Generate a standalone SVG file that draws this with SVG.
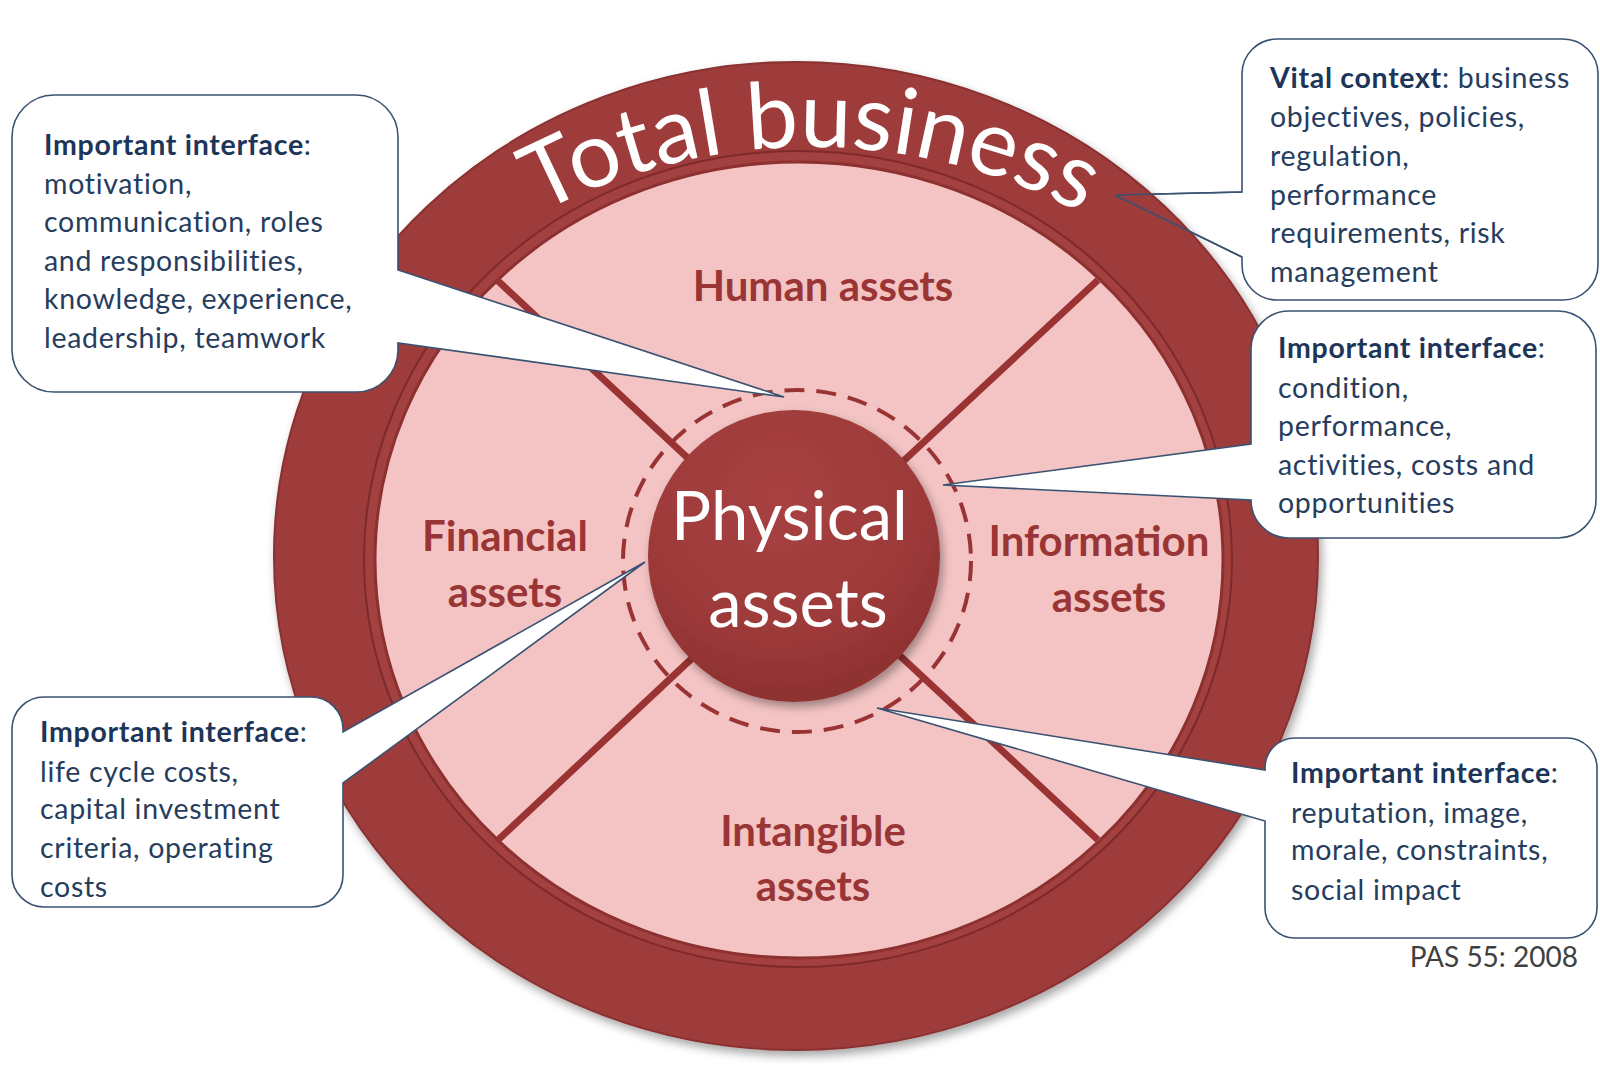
<svg xmlns="http://www.w3.org/2000/svg" width="1600" height="1078" viewBox="0 0 1600 1078">
<defs>
  <filter id="shadow" x="-10%" y="-10%" width="120%" height="120%">
    <feDropShadow dx="3" dy="5" stdDeviation="5" flood-color="#000" flood-opacity="0.35"/>
  </filter>
  <radialGradient id="hub" cx="45%" cy="30%" r="70%">
    <stop offset="0" stop-color="#A94242"/>
    <stop offset="0.7" stop-color="#9C3939"/>
    <stop offset="1" stop-color="#8E3131"/>
  </radialGradient>
  <path id="arcText" d="M 251,558 A 587 587 0 0 1 1371,558"/>
  <style>
    .callout { fill: #ffffff; stroke: #3A5272; stroke-width: 1.6; }
    .ctext { font-family: Lato, "Liberation Sans", sans-serif; font-size: 28.5px; letter-spacing: 0.7px; fill: #263D5E; }
    .ctext .b { font-weight: bold; fill: #1C3558; }
    .label { font-family: Lato, "Liberation Sans", sans-serif; font-size: 42px; font-weight: bold; fill: #9A3535; text-anchor: middle; }
    .divider { stroke: #9A3434; stroke-width: 7; }
    .ptr { fill: none; stroke: #3A5272; stroke-width: 1.6; }
  </style>
</defs>
<rect width="1600" height="1078" fill="#ffffff"/>

<!-- Vital context callout (sits behind the wheel) -->
<g id="callout-vital-context">
  <path class="callout" d="M 1277,39 H 1563 A 35 35 0 0 1 1598,74 V 265 A 35 35 0 0 1 1563,300 H 1277 A 35 35 0 0 1 1242,265 V 257 L 1115,195 L 1242,192 V 74 A 35 35 0 0 1 1277,39 Z"/>
  <text class="ctext">
    <tspan x="1270" y="88"><tspan class="b">Vital context</tspan>: business</tspan>
    <tspan x="1270" y="127">objectives, policies,</tspan>
    <tspan x="1270" y="166">regulation,</tspan>
    <tspan x="1270" y="205">performance</tspan>
    <tspan x="1270" y="243">requirements, risk</tspan>
    <tspan x="1270" y="282">management</tspan>
  </text>
</g>

<!-- Wheel -->
<g id="total-business">
  <ellipse cx="796" cy="556" rx="522" ry="494" fill="#9E3B3B" stroke="#8A3030" stroke-width="2" filter="url(#shadow)"/>
  <ellipse cx="798" cy="559" rx="434" ry="408" fill="#A34040" stroke="#7E2A2A" stroke-width="2"/>
  <text font-family="Lato, 'Liberation Sans', sans-serif" font-size="92" fill="#ffffff" text-anchor="middle">
    <textPath href="#arcText" startOffset="50%">Total business</textPath>
  </text>
</g>

<g id="asset-segments">
  <ellipse cx="799" cy="560" rx="424" ry="398" fill="#F4C4C4" stroke="#8C3030" stroke-width="3"/>
  <line class="divider" x1="497" y1="280" x2="797" y2="560"/>
  <line class="divider" x1="1098" y1="280" x2="797" y2="560"/>
  <line class="divider" x1="498" y1="840" x2="797" y2="560"/>
  <line class="divider" x1="1098" y1="840" x2="797" y2="560"/>
  <ellipse cx="797" cy="561" rx="174" ry="171" fill="none" stroke="#9A3434" stroke-width="4" stroke-dasharray="20 12"/>
</g>

<g id="human-assets">
  <text class="label" x="823" y="301">Human assets</text>
</g>
<g id="financial-assets">
  <text class="label" x="505" y="551">Financial</text>
  <text class="label" x="505" y="607">assets</text>
</g>
<g id="information-assets">
  <text class="label" x="1099" y="556">Information</text>
  <text class="label" x="1109" y="612">assets</text>
</g>
<g id="intangible-assets">
  <text class="label" x="813" y="846">Intangible</text>
  <text class="label" x="813" y="901">assets</text>
</g>

<g id="physical-assets">
  <circle cx="794" cy="556" r="146" fill="url(#hub)" filter="url(#shadow)"/>
  <text font-family="Lato, 'Liberation Sans', sans-serif" font-size="67" fill="#ffffff" text-anchor="middle">
    <tspan x="798" y="540">Physical</tspan>
    <tspan x="798" y="627">assets</tspan>
  </text>
</g>

<!-- Callouts over the wheel -->
<g id="callout-human">
  <path class="callout" d="M 54,95 H 356 A 42 42 0 0 1 398,137 V 270 L 784,397 L 398,343 V 350 A 42 42 0 0 1 356,392 H 54 A 42 42 0 0 1 12,350 V 137 A 42 42 0 0 1 54,95 Z"/>
  <text class="ctext">
    <tspan x="44" y="155"><tspan class="b">Important interface</tspan>:</tspan>
    <tspan x="44" y="194">motivation,</tspan>
    <tspan x="44" y="232">communication, roles</tspan>
    <tspan x="44" y="271">and responsibilities,</tspan>
    <tspan x="44" y="309">knowledge, experience,</tspan>
    <tspan x="44" y="348">leadership, teamwork</tspan>
  </text>
</g>

<g id="callout-information">
  <path class="callout" d="M 1289,311 H 1558 A 38 38 0 0 1 1596,349 V 500 A 38 38 0 0 1 1558,538 H 1289 A 38 38 0 0 1 1251,500 L 943,485 L 1251,444 V 349 A 38 38 0 0 1 1289,311 Z"/>
  <text class="ctext">
    <tspan x="1278" y="358"><tspan class="b">Important interface</tspan>:</tspan>
    <tspan x="1278" y="398">condition,</tspan>
    <tspan x="1278" y="436">performance,</tspan>
    <tspan x="1278" y="475">activities, costs and</tspan>
    <tspan x="1278" y="513">opportunities</tspan>
  </text>
</g>

<g id="callout-financial">
  <path class="callout" d="M 44,697 H 311 A 32 32 0 0 1 343,729 V 732 L 645,562 L 343,783 V 875 A 32 32 0 0 1 311,907 H 44 A 32 32 0 0 1 12,875 V 729 A 32 32 0 0 1 44,697 Z"/>
  <text class="ctext">
    <tspan x="40" y="742"><tspan class="b">Important interface</tspan>:</tspan>
    <tspan x="40" y="782">life cycle costs,</tspan>
    <tspan x="40" y="819">capital investment</tspan>
    <tspan x="40" y="858">criteria, operating</tspan>
    <tspan x="40" y="897">costs</tspan>
  </text>
</g>

<g id="callout-intangible">
  <path class="callout" d="M 1295,738 H 1567 A 30 30 0 0 1 1597,768 V 908 A 30 30 0 0 1 1567,938 H 1295 A 30 30 0 0 1 1265,908 V 821 L 877,708 L 1265,770 V 768 A 30 30 0 0 1 1295,738 Z"/>
  <text class="ctext">
    <tspan x="1291" y="783"><tspan class="b">Important interface</tspan>:</tspan>
    <tspan x="1291" y="823">reputation, image,</tspan>
    <tspan x="1291" y="860">morale, constraints,</tspan>
    <tspan x="1291" y="900">social impact</tspan>
  </text>
</g>

<g id="connectors">
  <polyline class="ptr" points="1242,192 1115,195 1242,257"/>
</g>

<text x="1578" y="967" font-family="Lato, 'Liberation Sans', sans-serif" font-size="28" fill="#404040" text-anchor="end">PAS 55: 2008</text>
</svg>
